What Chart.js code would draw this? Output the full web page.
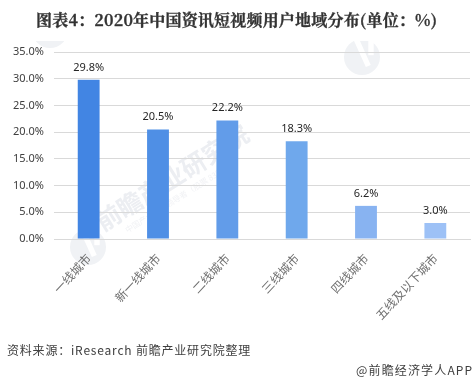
<!DOCTYPE html>
<html><head><meta charset="utf-8">
<script src="https://cdn.jsdelivr.net/npm/chart.js@4"></script>
<style>
html,body{margin:0;padding:0;background:#fff;overflow:hidden}
#w{position:relative;width:474px;height:382px;font-family:"Noto Sans CJK SC","Liberation Sans",sans-serif}
canvas{position:absolute;left:0;top:0}
.t{position:absolute;white-space:nowrap;color:#404040}
</style></head><body>
<div id="w"><canvas id="c" width="474" height="382"></canvas>
<div class="t" style="left:36px;top:8px;font-size:16px;font-weight:700;letter-spacing:.2px;-webkit-text-stroke:.3px #333;font-family:'Noto Serif CJK SC','Noto Sans CJK SC',sans-serif;color:#333">图表4：2020年中国资讯短视频用户地域分布(单位：%)</div>
<div class="t" style="left:7px;top:341px;font-size:12px;letter-spacing:.8px">资料来源：iResearch 前瞻产业研究院整理</div>
<div class="t" style="left:356px;top:361px;font-size:12px;letter-spacing:1.15px">@前瞻经济学人APP</div>
</div>
<script>
const categories=["一线城市","新一线城市","二线城市","三线城市","四线城市","五线及以下城市"];
const shares=[29.8,20.5,22.2,18.3,6.2,3.0];
const barColors=["#4285e3","#4f8fe5","#629ce9","#6fa8ec","#88b3f1","#9dc1f6"];
const yMax=35, yStep=5;
const fmt=v=>v.toFixed(1)+"%";
const valueLabels={id:"valueLabels",afterDatasetsDraw(ch){
  const g=ch.ctx,m=ch.getDatasetMeta(0);
  g.save();g.fillStyle="#262626";g.font='11px "Noto Sans","Liberation Sans",sans-serif';g.textAlign="center";g.textBaseline="alphabetic";
  m.data.forEach((b,i)=>g.fillText(fmt(shares[i]),b.x,b.y-9));
  g.restore();
}};
function logo(g,x,y,r){
  g.fillStyle="#f0f2f5";g.beginPath();g.arc(x,y,r,0,Math.PI*2);g.fill();
  g.strokeStyle="#fff";g.lineWidth=r*0.3;g.beginPath();g.moveTo(x-r*0.35,y-r*1.05);g.lineTo(x+r*0.35,y+r*0.5);g.stroke();
  g.beginPath();g.moveTo(x+r*0.5,y-r*0.1);g.lineTo(x+r*0.5,y-r*1.1);g.stroke();
}
const watermark={id:"watermark",beforeDraw(ch){
  const g=ch.ctx;g.save();
  g.beginPath();g.rect(0,41,474,341);g.clip();
  logo(g,88,247,18);logo(g,362,57,18);logo(g,50,30,18);
  g.translate(103,232);g.rotate(-0.56);
  g.fillStyle="#eceef2";g.font='bold 25px "Noto Sans CJK SC",sans-serif';g.textBaseline="alphabetic";
  g.fillText("前瞻产业研究院",0,0);
  g.fillStyle="#f1f2f5";g.font='8px "Noto Sans CJK SC",sans-serif';
  g.fillText("中国产业咨询领导者（股票 839599）",20,14);
  g.restore();
}};
new Chart(document.getElementById("c"),{
  type:"bar",
  data:{labels:categories,datasets:[{data:shares,backgroundColor:barColors,barPercentage:0.315,categoryPercentage:1}]},
  plugins:[watermark,valueLabels],
  options:{
    responsive:false,animation:false,
    layout:{padding:{top:52,right:4,left:0,bottom:0}},
    plugins:{legend:{display:false},tooltip:{enabled:false}},
    scales:{
      y:{min:0,max:yMax,afterFit(s){s.width=54},
        ticks:{stepSize:yStep,callback:v=>fmt(v),color:"#404040",padding:10,font:{size:11,family:'"Noto Sans","Liberation Sans",sans-serif'}},
        grid:{color:"#d9d9d9",lineWidth:1,drawTicks:false},border:{display:false}},
      x:{afterFit(s){s.height=143},
        ticks:{minRotation:47,maxRotation:47,color:"#707070",padding:4,autoSkip:false,font:{size:12,family:'"Noto Sans CJK SC",sans-serif'}},
        grid:{display:false},border:{color:"#d9d9d9"}}
    }
  }
});
</script></body></html>
